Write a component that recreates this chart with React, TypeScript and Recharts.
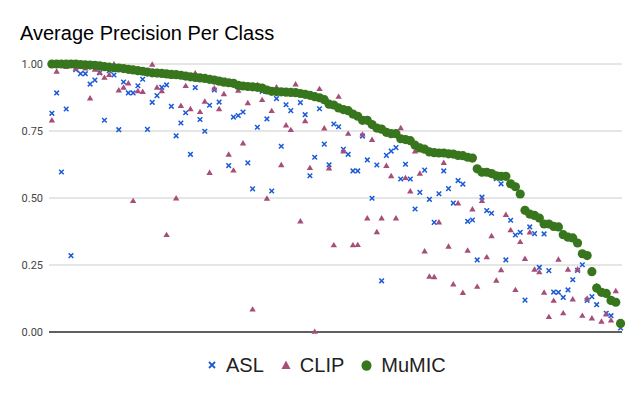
import { ScatterChart, Scatter, XAxis, YAxis, CartesianGrid, ReferenceLine } from "recharts";

// 120 classes, sorted by MuMIC precision
const classes = Array.from({ length: 120 }, (_, i) => i);

const mumic = [
  1.0, 1.0, 1.0, 1.0, 1.0, 1.0, 0.998, 0.997, 0.996, 0.995,
  0.993, 0.99, 0.988, 0.986, 0.985, 0.983, 0.98, 0.978, 0.975, 0.973,
  0.97, 0.967, 0.966, 0.965, 0.963, 0.961, 0.96, 0.958, 0.955, 0.952,
  0.95, 0.948, 0.946, 0.943, 0.94, 0.936, 0.932, 0.93, 0.928, 0.92,
  0.918, 0.916, 0.915, 0.913, 0.91, 0.903, 0.898, 0.897, 0.896, 0.895,
  0.894, 0.893, 0.89, 0.887, 0.883, 0.878, 0.874, 0.867, 0.85, 0.847,
  0.836, 0.83, 0.826, 0.813, 0.805, 0.79, 0.79, 0.774, 0.761, 0.757,
  0.745, 0.74, 0.74, 0.721, 0.718, 0.714, 0.697, 0.687, 0.682, 0.672,
  0.669, 0.668, 0.668, 0.665, 0.664, 0.659, 0.658, 0.652, 0.649, 0.609,
  0.596, 0.596, 0.591, 0.583, 0.581, 0.581, 0.553, 0.542, 0.515, 0.454,
  0.44, 0.435, 0.425, 0.403, 0.403, 0.394, 0.392, 0.363, 0.354, 0.351,
  0.332, 0.292, 0.285, 0.225, 0.164, 0.148, 0.144, 0.118, 0.111, 0.032,
];

const asl = [
  0.816, 0.892, 0.597, 0.832, 0.285, 0.979, 0.964, 0.964, 0.925, 0.94,
  0.967, 0.79, 0.975, 0.959, 0.755, 0.933, 0.892, 0.892, 0.919, 0.943,
  0.756, 0.857, 0.882, 0.913, 0.922, 0.842, 0.732, 0.78, 0.818, 0.663,
  0.912, 0.793, 0.749, 0.846, 0.903, 0.858, 0.94, 0.621, 0.802, 0.808,
  0.821, 0.631, 0.534, 0.764, 0.898, 0.795, 0.526, 0.871, 0.693, 0.848,
  0.826, 0.897, 0.856, 0.811, 0.583, 0.652, 0.833, 0.701, 0.624, 0.776,
  0.766, 0.682, 0.663, 0.601, 0.601, 0.731, 0.642, 0.499, 0.623, 0.191,
  0.659, 0.675, 0.688, 0.571, 0.626, 0.571, 0.459, 0.521, 0.604, 0.495,
  0.409, 0.516, 0.601, 0.535, 0.481, 0.565, 0.552, 0.413, 0.418, 0.269,
  0.503, 0.453, 0.443, 0.572, 0.553, 0.269, 0.417, 0.362, 0.372, 0.119,
  0.392, 0.367, 0.241, 0.366, 0.229, 0.149, 0.148, 0.129, 0.157, 0.195,
  0.23, 0.251, 0.118, 0.132, 0.102, 0.15, 0.07, 0.061, 0.11, 0.015,
];

const clip = [
  0.791, 0.973, 1.0, 0.99, 0.995, 0.984, 0.99, 0.985, 0.873, 0.98,
  0.969, 0.95, 0.96, 1.0, 0.903, 0.913, 0.929, 0.49, 0.9, 0.897,
  0.97, 0.999, 0.913, 0.9, 0.363, 0.955, 0.5, 0.845, 0.919, 0.833,
  0.966, 0.822, 0.861, 0.595, 0.91, 0.833, 0.889, 0.663, 0.604, 0.902,
  0.705, 0.855, 0.085, 0.923, 0.867, 0.499, 0.826, 0.914, 0.624, 0.772,
  0.755, 0.925, 0.414, 0.788, 0.613, 0.002, 0.908, 0.761, 0.612, 0.325,
  0.879, 0.675, 0.741, 0.325, 0.326, 0.738, 0.425, 0.718, 0.374, 0.425,
  0.621, 0.583, 0.425, 0.762, 0.576, 0.526, 0.675, 0.592, 0.302, 0.208,
  0.206, 0.41, 0.632, 0.32, 0.179, 0.481, 0.147, 0.305, 0.459, 0.17,
  0.49, 0.28, 0.359, 0.193, 0.232, 0.438, 0.381, 0.158, 0.337, 0.274,
  0.373, 0.234, 0.224, 0.148, 0.057, 0.118, 0.271, 0.071, 0.234, 0.123,
  0.235, 0.062, 0.126, 0.052, 0.173, 0.04, 0.067, 0.044, 0.154, 0.03,
];

const yTicks = [0, 0.25, 0.5, 0.75, 1];

const ASL_COLOR = "#1a5ad8";
const CLIP_COLOR = "#a64d79";
const MUMIC_COLOR = "#38761d";
const FONT = "'Liberation Sans', Arial, sans-serif";

const toPoints = (vals: number[]) => classes.map((c) => ({ x: c, y: vals[c] }));

const XMark = (props: any) => {
  const { cx, cy } = props;
  const d = 2.3;
  return (
    <path
      d={`M${cx - d},${cy - d}L${cx + d},${cy + d}M${cx - d},${cy + d}L${cx + d},${cy - d}`}
      stroke={ASL_COLOR}
      strokeWidth={1.5}
      fill="none"
    />
  );
};

const TriMark = (props: any) => {
  const { cx, cy } = props;
  return (
    <path
      d={`M${cx},${cy - 3}L${cx + 3.2},${cy + 2.4}L${cx - 3.2},${cy + 2.4}Z`}
      fill={CLIP_COLOR}
    />
  );
};

const DotMark = (props: any) => {
  const { cx, cy } = props;
  return <circle cx={cx} cy={cy} r={4.6} fill={MUMIC_COLOR} />;
};

const legendItems = [
  { name: "ASL", icon: "x" },
  { name: "CLIP", icon: "tri" },
  { name: "MuMIC", icon: "dot" },
];

function LegendIcon({ kind }: { kind: string }) {
  if (kind === "x")
    return (
      <svg width={10} height={10}>
        <path d="M2,2L8,8M2,8L8,2" stroke={ASL_COLOR} strokeWidth={1.8} />
      </svg>
    );
  if (kind === "tri")
    return (
      <svg width={10} height={10}>
        <path d="M5,0.5L9.5,9L0.5,9Z" fill={CLIP_COLOR} />
      </svg>
    );
  return (
    <svg width={11} height={11}>
      <ellipse cx={5.5} cy={5.5} rx={5} ry={5.3} fill={MUMIC_COLOR} />
    </svg>
  );
}

export default function App() {
  return (
    <div
      style={{
        position: "absolute",
        left: 0,
        top: 0,
        width: 643,
        height: 397,
        background: "#fff",
        fontFamily: FONT,
      }}
    >
      <div
        style={{
          position: "absolute",
          left: 20,
          top: 23,
          fontSize: 20,
          lineHeight: "20px",
          color: "#000",
        }}
      >
        Average Precision Per Class
      </div>
      <ScatterChart
        width={643}
        height={397}
        margin={{ top: 64, right: 21, bottom: 65, left: 0 }}
      >
        <CartesianGrid vertical={false} stroke="#cccccc" />
        <XAxis type="number" dataKey="x" domain={[-0.6, 119.3]} hide />
        <YAxis
          type="number"
          dataKey="y"
          domain={[0, 1]}
          ticks={yTicks}
          tickFormatter={(v: number) => v.toFixed(2)}
          axisLine={false}
          tickLine={false}
          tickSize={0}
          tickMargin={6}
          width={49}
          tick={{ fill: "#444", fontSize: 11, fontFamily: "Roboto, sans-serif" }}
        />
        <ReferenceLine y={0} stroke="#333" strokeWidth={1.3} />
        <Scatter name="ASL" data={toPoints(asl)} shape={XMark} isAnimationActive={false} />
        <Scatter name="CLIP" data={toPoints(clip)} shape={TriMark} isAnimationActive={false} />
        <Scatter name="MuMIC" data={toPoints(mumic)} shape={DotMark} isAnimationActive={false} />
      </ScatterChart>
      <div
        style={{
          position: "absolute",
          left: 207,
          top: 355,
          display: "flex",
          fontSize: 20,
          lineHeight: "20px",
          color: "#222",
        }}
      >
        {legendItems.map((it) => (
          <div
            key={it.name}
            style={{ display: "flex", alignItems: "center", marginRight: 17 }}
          >
            <LegendIcon kind={it.icon} />
            <span style={{ marginLeft: 9 }}>{it.name}</span>
          </div>
        ))}
      </div>
    </div>
  );
}
